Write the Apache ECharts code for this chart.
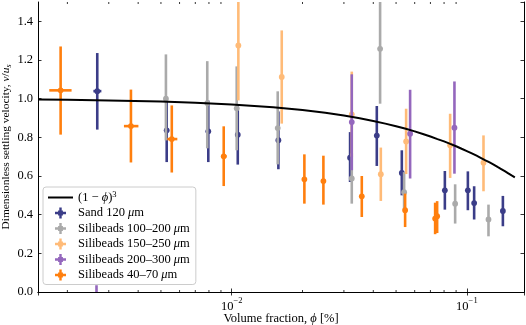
<!DOCTYPE html>
<html>
<head>
<meta charset="utf-8">
<style>
    html, body { margin: 0; padding: 0; background: #fff; }
    #chart { width: 526px; height: 325px; }
</style>
<script src="https://cdn.jsdelivr.net/npm/echarts@6/dist/echarts.min.js"></script>
</head>
<body>
<div id="chart"></div>
<script>
    // rows: [phi, v, v low, v high, phi low, phi high] (phi low/high only where a horizontal bar shows)
    const sand120 = [
        [0.00268, 1.039, 0.840, 1.236, 0.00258, 0.00279],
        [0.00529, 0.836, 0.672, 1.000, null, null],
        [0.00795, 0.831, 0.672, 0.990, null, null],
        [0.01061, 0.814, 0.659, 0.970, null, null],
        [0.01579, 0.785, 0.635, 0.934, null, null],
        [0.03187, 0.695, 0.569, 0.827, null, null],
        [0.04140, 0.809, 0.652, 0.962, null, null],
        [0.05289, 0.616, 0.500, 0.733, null, null],
        [0.08062, 0.526, 0.426, 0.626, null, null],
        [0.10100, 0.526, 0.423, 0.624, null, null],
        [0.10740, 0.460, 0.375, 0.547, null, null],
        [0.14230, 0.419, 0.340, 0.497, null, null]
    ];
    const sili100_200 = [
        [0.00525, 1.000, 0.784, 1.229, null, null],
        [0.00787, 0.977, 0.743, 1.194, null, null],
        [0.01050, 0.950, 0.733, 1.167, null, null],
        [0.01569, 0.848, 0.660, 1.038, null, null],
        [0.03240, 0.587, 0.457, 0.717, null, null],
        [0.04276, 1.258, 0.974, 1.542, null, null],
        [0.05410, 0.516, 0.420, 0.620, null, null],
        [0.08917, 0.457, 0.354, 0.557, null, null],
        [0.12360, 0.375, 0.288, 0.452, null, null]
    ];
    const sili150_250 = [
        [0.01067, 1.275, 0.991, 1.560, null, null],
        [0.01632, 1.112, 0.871, 1.353, null, null],
        [0.03240, 0.919, 0.700, 1.140, null, null],
        [0.04306, 0.609, 0.471, 0.747, null, null],
        [0.05517, 0.779, 0.610, 0.948, null, null],
        [0.08490, 0.759, 0.590, 0.922, null, null],
        [0.11770, 0.669, 0.521, 0.810, null, null]
    ];
    const sili200_300 = [
        [0.00266, -0.200, -0.430, 0.035, null, null],
        [0.03240, 0.879, 0.630, 1.126, null, null],
        [0.05737, 0.819, 0.587, 1.046, null, null],
        [0.08856, 0.850, 0.612, 1.089, null, null]
    ];
    const sili40_70 = [
        [0.001872, 1.043, 0.814, 1.270, 0.001675, 0.002084],
        [0.003727, 0.858, 0.670, 1.047, 0.00348, 0.00401],
        [0.00556, 0.791, 0.618, 0.965, 0.00532, 0.00587],
        [0.009247, 0.702, 0.548, 0.857, 0.00901, 0.00951],
        [0.02037, 0.583, 0.457, 0.712, null, null],
        [0.02454, 0.574, 0.452, 0.705, null, null],
        [0.03574, 0.495, 0.388, 0.600, null, null],
        [0.05463, 0.423, 0.336, 0.509, null, null],
        [0.07330, 0.380, 0.299, 0.462, null, null],
        [0.07475, 0.392, 0.305, 0.470, null, null]
    ];
    // (1 - phi)^3
    const curvePhi = [0.0015, 0.002, 0.003, 0.005, 0.007, 0.01, 0.015, 0.02, 0.025, 0.03, 0.035, 0.04, 0.045, 0.05,
        0.055, 0.06, 0.065, 0.07, 0.075, 0.08, 0.085, 0.09, 0.095, 0.10, 0.105, 0.11, 0.115, 0.12, 0.125,
        0.13, 0.135, 0.14, 0.145, 0.15, 0.155, 0.16];
    const curveV = [0.996, 0.994, 0.991, 0.985, 0.979, 0.970, 0.956, 0.941, 0.927, 0.913, 0.899, 0.885, 0.871, 0.857,
        0.844, 0.831, 0.817, 0.804, 0.791, 0.779, 0.766, 0.754, 0.741, 0.729, 0.717, 0.705, 0.693, 0.681, 0.670,
        0.659, 0.647, 0.636, 0.625, 0.614, 0.603, 0.593];
    const minorTicks = [0.002, 0.003, 0.004, 0.005, 0.006, 0.007, 0.008, 0.009,
        0.02, 0.03, 0.04, 0.05, 0.06, 0.07, 0.08, 0.09];

    const FONT = "'Liberation Serif', 'DejaVu Serif', serif";
    const FS = 12.5;
    const FS_Y = 11.4;
    const plusIcon = 'path://M3.9,0H6.1V2.8H7.2V3.9H10V6.1H7.2V7.2H6.1V10H3.9V7.2H2.8V6.1H0V3.9H2.8V2.8H3.9Z';

    const groups = [
        { name: 'Sand 120 μm', data: sand120, color: '#3b3d88' },
        { name: 'Silibeads 100–200 μm', data: sili100_200, color: '#aaaaaa' },
        { name: 'Silibeads 150–250 μm', data: sili150_250, color: '#ffbb78' },
        { name: 'Silibeads 200–300 μm', data: sili200_300, color: '#9467bd' },
        { name: 'Silibeads 40–70 μm', data: sili40_70, color: '#ff7f0e' }
    ];
    const curveName = '(1 − ϕ)³';

    function errorBar (color) {
        return function (params, api) {
            const x = api.value(0);
            const y = api.value(1);
            const c = api.coord([x, y]);
            const lo = api.coord([x, api.value(2)]);
            const hi = api.coord([x, api.value(3)]);
            const children = [{
                type: 'line',
                shape: { x1: c[0], y1: lo[1], x2: c[0], y2: hi[1] },
                style: { stroke: color, lineWidth: 2.6 }
            }];
            const xl = api.value(4);
            const xh = api.value(5);
            if (!isNaN(xl) && !isNaN(xh) && xl > 0) {
                const l = api.coord([xl, y]);
                const r = api.coord([xh, y]);
                children.push({
                    type: 'line',
                    shape: { x1: l[0], y1: c[1], x2: r[0], y2: c[1] },
                    style: { stroke: color, lineWidth: 2.6 }
                });
            }
            children.push({
                type: 'circle',
                shape: { cx: c[0], cy: c[1], r: 2.9 },
                style: { fill: color }
            });
            return { type: 'group', children: children };
        };
    }

    function minorTickItem (params, api) {
        const px = api.coord([api.value(0), 0.5])[0];
        const cs = params.coordSys;
        return {
            type: 'group',
            children: [
                { type: 'line', shape: { x1: px, y1: cs.y + cs.height, x2: px, y2: cs.y + cs.height - 2 }, style: { stroke: '#000', lineWidth: 0.8 } },
                { type: 'line', shape: { x1: px, y1: cs.y, x2: px, y2: cs.y + 2 }, style: { stroke: '#000', lineWidth: 0.8 } }
            ]
        };
    }

    const series = [{
        name: curveName,
        type: 'line',
        data: curvePhi.map((p, i) => [p, curveV[i]]),
        smooth: false,
        symbol: 'none',
        lineStyle: { color: '#000', width: 2 },
        itemStyle: { color: '#000' }
    }];
    groups.forEach(g => {
        series.push({
            name: g.name,
            type: 'custom',
            dimensions: ['phi', 'v', 'lo', 'hi', 'xlo', 'xhi'],
            data: g.data,
            renderItem: errorBar(g.color),
            itemStyle: { color: g.color },
            clip: true
        });
    });
    series.push({
        type: 'custom',
        silent: true,
        data: minorTicks.map(t => [t, 0.5]),
        renderItem: minorTickItem,
        clip: false
    });

    function powLabel (value) {
        const e = Math.round(Math.log10(value));
        if (Math.abs(Math.log10(value) - e) > 1e-6) {
            return '';
        }
        return '{b|10}{s|−' + Math.abs(e) + '}';
    }

    const option = {
        animation: false,
        textStyle: { fontFamily: FONT },
        grid: { left: 38, right: 2, top: 2, bottom: 33, outerBoundsMode: 'none', containLabel: false },
        legend: {
            orient: 'vertical',
            left: 43,
            top: 187,
            padding: [3, 6, 3, 5],
            itemWidth: 25,
            itemHeight: 11,
            itemGap: 2.5,
            backgroundColor: 'rgba(255,255,255,0.8)',
            borderColor: '#cccccc',
            borderWidth: 1,
            borderRadius: 3,
            data: [{ name: curveName, icon: 'path://M0,0H25V2H0Z' }].concat(groups.map(g => ({ name: g.name, icon: plusIcon }))),
            formatter: function (name) {
                if (name === curveName) {
                    return '{t|(1 − }{i|ϕ}{t|)}{s|3}';
                }
                return '{t|' + name.replace('μm', '}{i|μ}{t|m}');
            },
            textStyle: {
                color: '#000',
                fontFamily: FONT,
                fontSize: FS,
                rich: {
                    t: { fontSize: FS, fontFamily: FONT, color: '#000', lineHeight: 15 },
                    i: { fontSize: FS, fontFamily: FONT, fontStyle: 'italic', color: '#000', lineHeight: 15 },
                    s: { fontSize: 8.5, fontFamily: FONT, color: '#000', verticalAlign: 'top', lineHeight: 9 }
                }
            }
        },
        xAxis: [{
            type: 'log',
            min: 0.0015,
            max: 0.175,
            name: '{n|Volume fraction, }{i|ϕ}{n| [%]}',
            nameLocation: 'middle',
            nameGap: 20,
            nameMoveOverlap: false,
            nameTextStyle: {
                rich: {
                    n: { fontSize: FS, fontFamily: FONT, color: '#000' },
                    i: { fontSize: FS, fontFamily: FONT, fontStyle: 'italic', color: '#000' }
                }
            },
            axisLine: { show: true, lineStyle: { color: '#000', width: 1 } },
            axisTick: { show: true, inside: true, length: 3.5, lineStyle: { color: '#000', width: 0.8 } },
            splitLine: { show: false },
            axisLabel: {
                margin: 4,
                showMinLabel: false,
                showMaxLabel: false,
                formatter: powLabel,
                rich: {
                    b: { fontSize: FS, fontFamily: FONT, color: '#000', padding: [4, 0, 0, 0] },
                    s: { fontSize: 8.5, fontFamily: FONT, color: '#000', verticalAlign: 'top' }
                }
            }
        }, {
            type: 'log',
            position: 'top',
            min: 0.0015,
            max: 0.175,
            axisLine: { show: true, lineStyle: { color: '#000', width: 1 } },
            axisTick: { show: true, inside: true, length: 3.5, lineStyle: { color: '#000', width: 0.8 } },
            axisLabel: { show: false },
            splitLine: { show: false }
        }],
        yAxis: [{
            type: 'value',
            min: 0,
            max: 1.5,
            interval: 0.2,
            name: '{n|Dimensionless settling velocity, }{i|v}{n|/}{i|u}{sub|s}',
            nameLocation: 'middle',
            nameGap: 25,
            nameMoveOverlap: false,
            nameTextStyle: {
                rich: {
                    n: { fontSize: FS_Y, fontFamily: FONT, color: '#000' },
                    i: { fontSize: FS_Y, fontFamily: FONT, fontStyle: 'italic', color: '#000' },
                    sub: { fontSize: 8, fontFamily: FONT, fontStyle: 'italic', color: '#000', padding: [6, 0, 0, 0] }
                }
            },
            axisLine: { show: true, lineStyle: { color: '#000', width: 1 } },
            axisTick: { show: true, inside: true, length: 3.5, lineStyle: { color: '#000', width: 0.8 } },
            splitLine: { show: false },
            axisLabel: {
                margin: 5,
                color: '#000',
                fontSize: FS,
                fontFamily: FONT,
                showMaxLabel: false,
                formatter: v => (v > 1.45 ? '' : v.toFixed(1))
            }
        }, {
            type: 'value',
            position: 'right',
            min: 0,
            max: 1.5,
            interval: 0.2,
            axisLine: { show: true, lineStyle: { color: '#000', width: 1 } },
            axisTick: { show: true, inside: true, length: 3.5, lineStyle: { color: '#000', width: 0.8 } },
            axisLabel: { show: false },
            splitLine: { show: false }
        }],
        series: series
    };

    const chart = echarts.init(document.getElementById('chart'));
    chart.setOption(option);
    window.addEventListener('resize', chart.resize);
</script>
</body>
</html>
